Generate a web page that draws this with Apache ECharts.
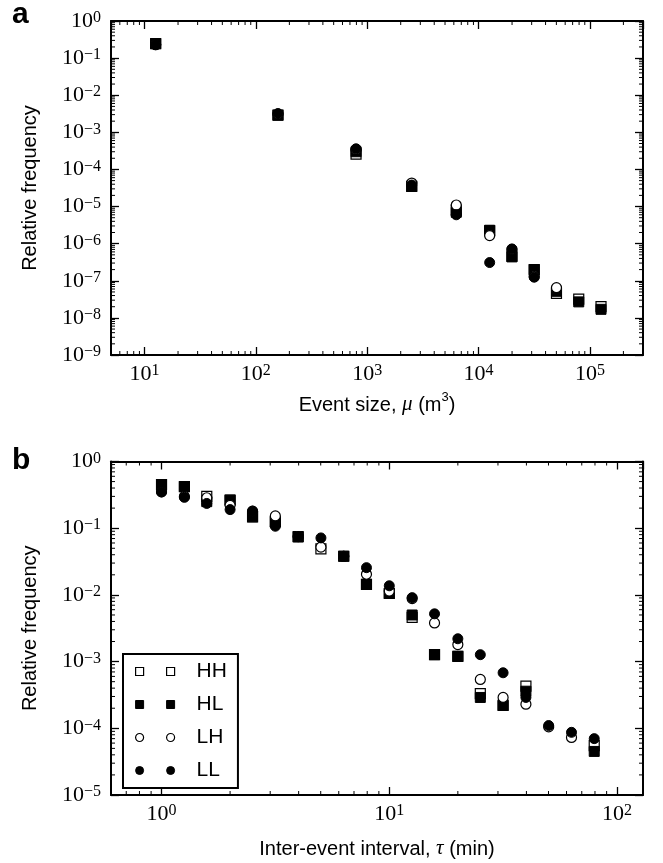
<!DOCTYPE html>
<html><head><meta charset="utf-8">
<script src="https://cdn.jsdelivr.net/npm/echarts@6/dist/echarts.min.js"></script>
<style>html,body{margin:0;padding:0;background:#fff}#c{width:663px;height:863px}</style>
</head><body><div id="c"></div>
<script>
// ---------- Panel a: event size distribution ----------
const sizeBins = [12.6, 158, 794, 2512, 6310, 12589, 19953, 31623, 50119, 79433, 125893];
const aHH = [0.245, 2.9e-3, 2.6e-4, 3.5e-5, 8.0e-6, 2.2e-6, 4.6e-7, 2.0e-7, 4.6e-8, 3.2e-8, 2.0e-8];
const aHL = [0.245, 2.9e-3, 3.0e-4, 3.5e-5, 7.0e-6, 2.3e-6, 4.4e-7, 2.0e-7, 5.2e-8, 2.7e-8, 1.7e-8];
const aLH = [0.23, 3.1e-3, 3.4e-4, 4.3e-5, 1.1e-5, 1.65e-6, 7.0e-7, 1.3e-7, 6.5e-8, null, null];
const aLL = [0.23, 3.2e-3, 3.6e-4, 3.8e-5, 6.0e-6, 3.1e-7, 7.2e-7, 1.25e-7, null, null, null];
const aXRange = [5, 3e5];
const aYRange = [1e-9, 1];

// ---------- Panel b: inter-event interval distribution ----------
const intervalBins = [1.0, 1.26, 1.58, 2.0, 2.51, 3.16, 3.98, 5.01, 6.31, 7.94, 10.0, 12.6, 15.8, 20.0, 25.1, 31.6, 39.8, 50.1, 63.1, 79.4];
const bHH = [0.45, 0.42, 0.30, 0.264, 0.148, 0.125, 0.075, 0.049, 0.038, 0.0144, 0.0105, 0.0046, 0.00127, 0.0012, 0.00033, 0.00022, 0.00043, null, null, 5.5e-5];
const bHL = [0.45, 0.42, 0.25, 0.264, 0.148, 0.125, 0.074, null, 0.038, 0.0144, 0.0105, 0.0050, 0.00127, 0.0012, 0.00029, 0.00022, 0.00036, null, null, 4.5e-5];
const bLH = [0.35, 0.30, 0.286, 0.22, 0.18, 0.153, 0.075, 0.052, 0.038, 0.0204, 0.0114, 0.0088, 0.0038, 0.0018, 0.00054, 0.00029, 0.00023, 1.05e-4, 7.3e-5, null];
const bLL = [0.35, 0.29, 0.235, 0.19, 0.18, 0.107, 0.075, 0.0715, 0.038, 0.0256, 0.0137, 0.0091, 0.0052, 0.0022, 0.00127, 0.00068, 0.00029, 1.1e-4, 8.7e-5, 7.0e-5];
const bXRange = [0.6, 130];
const bYRange = [1e-5, 1];

const seriesNames = ['HH', 'HL', 'LH', 'LL'];

const SERIF = '"Liberation Serif", "DejaVu Serif", serif';
const SANS = '"Liberation Sans", "Helvetica", Arial, sans-serif';
const MINUS = '\u2212';

function powLabel(v) {
  const l = Math.log10(v);
  const e = Math.round(l);
  if (Math.abs(l - e) > 1e-6) return '';
  return '{b|10}{s|' + (e < 0 ? MINUS + (-e) : e) + '}';
}
const labelRich = {
  b: { fontFamily: SERIF, fontSize: 22, lineHeight: 22, verticalAlign: 'bottom', color: '#000' },
  s: { fontFamily: SERIF, fontSize: 16, lineHeight: 16, padding: [0, 0, 10, 0], verticalAlign: 'top', color: '#000' }
};
const nameRich = {
  n: { fontFamily: SANS, fontSize: 20, color: '#000', lineHeight: 24, verticalAlign: 'bottom' },
  m: { fontFamily: SERIF, fontStyle: 'italic', fontSize: 21, color: '#000', lineHeight: 24, verticalAlign: 'bottom' },
  p: { fontFamily: SANS, fontSize: 13, color: '#000', lineHeight: 13, padding: [0, 0, 11, 0], verticalAlign: 'top' }
};

const frameLine = { show: true, onZero: false, lineStyle: { color: '#000', width: 2 } };
const majorTick = { show: true, inside: true, length: 8, lineStyle: { color: '#000', width: 1.3 } };

function mainX(grid, range, name, gap) {
  return {
    type: 'log', logBase: 10, gridIndex: grid, position: 'bottom', min: range[0], max: range[1],
    axisLine: frameLine, axisTick: majorTick, splitLine: { show: false }, minorTick: { show: false },
    axisLabel: { formatter: powLabel, rich: labelRich, margin: 8, showMinLabel: false, showMaxLabel: false },
    name: name, nameLocation: 'middle', nameGap: gap, nameTextStyle: { rich: nameRich }
  };
}
function mirrorX(grid, range) {
  return {
    type: 'log', logBase: 10, gridIndex: grid, position: 'top', min: range[0], max: range[1],
    axisLine: frameLine, axisTick: majorTick, splitLine: { show: false }, axisLabel: { show: false }
  };
}
function mainY(grid, range) {
  return {
    type: 'log', logBase: 10, gridIndex: grid, position: 'left', min: range[0], max: range[1],
    axisLine: frameLine, axisTick: majorTick, splitLine: { show: false }, minorTick: { show: false },
    axisLabel: { formatter: powLabel, rich: labelRich, margin: 10 },
    name: 'Relative frequency', nameLocation: 'middle', nameGap: 71, nameRotate: 90,
    nameTextStyle: { fontFamily: SANS, fontSize: 20, color: '#000' }
  };
}
function mirrorY(grid, range) {
  return {
    type: 'log', logBase: 10, gridIndex: grid, position: 'right', min: range[0], max: range[1],
    axisLine: frameLine, axisTick: majorTick, splitLine: { show: false }, axisLabel: { show: false }
  };
}

// minor tick values (2..9 x 10^k) inside a range
function minorValues(range) {
  const out = [];
  const k0 = Math.floor(Math.log10(range[0])), k1 = Math.ceil(Math.log10(range[1]));
  for (let k = k0; k <= k1; k++) {
    for (let m = 2; m <= 9; m++) {
      const v = m * Math.pow(10, k);
      if (v > range[0] * 1.0001 && v < range[1] * 0.9999) out.push(v);
    }
  }
  return out;
}
function minorSeries(grid, xr, yr) {
  const data = [];
  minorValues(xr).forEach(v => data.push([v, yr[0], 0]));
  minorValues(yr).forEach(v => data.push([xr[0], v, 1]));
  return {
    type: 'custom', xAxisIndex: grid * 2, yAxisIndex: grid * 2, silent: true, z: 5,
    data: data,
    renderItem: function (params, api) {
      const L = 4, st = { stroke: '#000', lineWidth: 1 };
      const v = api.value(0), w = api.value(1), kind = api.value(2);
      if (kind === 0) {
        const a = api.coord([v, yr[0]]), b = api.coord([v, yr[1]]);
        return { type: 'group', children: [
          { type: 'line', shape: { x1: a[0], y1: a[1], x2: a[0], y2: a[1] - L }, style: st },
          { type: 'line', shape: { x1: b[0], y1: b[1], x2: b[0], y2: b[1] + L }, style: st }
        ] };
      } else {
        const a = api.coord([xr[0], w]), b = api.coord([xr[1], w]);
        return { type: 'group', children: [
          { type: 'line', shape: { x1: a[0], y1: a[1], x2: a[0] + L, y2: a[1] }, style: st },
          { type: 'line', shape: { x1: b[0], y1: b[1], x2: b[0] - L, y2: b[1] }, style: st }
        ] };
      }
    }
  };
}

const markerStyles = {
  HH: { symbol: 'rect', itemStyle: { color: '#fff', borderColor: '#000', borderWidth: 1.2, opacity: 1 } },
  HL: { symbol: 'rect', itemStyle: { color: '#000', borderColor: '#000', borderWidth: 1, opacity: 1 } },
  LH: { symbol: 'circle', itemStyle: { color: '#fff', borderColor: '#000', borderWidth: 1.2, opacity: 1 } },
  LL: { symbol: 'circle', itemStyle: { color: '#000', borderColor: '#000', borderWidth: 1, opacity: 1 } }
};

function scatter(grid, name, xs, ys) {
  const data = [];
  xs.forEach((x, i) => { if (ys[i] != null) data.push([x, ys[i]]); });
  return {
    type: 'scatter', name: name, xAxisIndex: grid * 2, yAxisIndex: grid * 2,
    symbol: markerStyles[name].symbol, symbolSize: 10,
    itemStyle: markerStyles[name].itemStyle, data: data, z: 3,
    emphasis: { disabled: true }
  };
}

const SQ2 = 'path://M0,0L8,0L8,8L0,8Z M31,0L39,0L39,8L31,8Z';
const CI2 = 'path://M0,4A4,4,0,1,1,8,4A4,4,0,1,1,0,4Z M31,4A4,4,0,1,1,39,4A4,4,0,1,1,31,4Z';

const chart = echarts.init(document.getElementById('c'), null, { renderer: 'canvas' });
chart.setOption({
  animation: false,
  backgroundColor: '#fff',
  grid: [
    { left: 111, top: 21, width: 532, height: 334 },
    { left: 111, top: 461.5, width: 532, height: 333.5 }
  ],
  xAxis: [
    mainX(0, aXRange, '{n|Event size, }{m|\u03bc}{n| (m}{p|3}{n|)}', 36),
    mirrorX(0, aXRange),
    mainX(1, bXRange, '{n|Inter-event interval, }{m|\u03c4}{n| (min)}', 40),
    mirrorX(1, bXRange)
  ],
  yAxis: [
    mainY(0, aYRange), mirrorY(0, aYRange),
    mainY(1, bYRange), mirrorY(1, bYRange)
  ],
  legend: {
    show: true, orient: 'vertical', left: 123, top: 654,
    padding: [7, 11, 7, 12], itemGap: 12, itemWidth: 39, itemHeight: 8,
    borderColor: '#000', borderWidth: 2, borderRadius: 0, backgroundColor: '#fff',
    selectedMode: false,
    textStyle: { fontFamily: SANS, fontSize: 21, color: '#000', lineHeight: 20, padding: [0, 0, 0, 17] },
    data: [
      { name: 'HH', icon: SQ2, itemStyle: { color: '#fff', borderColor: '#000', borderWidth: 1.2, opacity: 1 } },
      { name: 'HL', icon: SQ2, itemStyle: { color: '#000', borderColor: '#000', borderWidth: 1, opacity: 1 } },
      { name: 'LH', icon: CI2, itemStyle: { color: '#fff', borderColor: '#000', borderWidth: 1.2, opacity: 1 } },
      { name: 'LL', icon: CI2, itemStyle: { color: '#000', borderColor: '#000', borderWidth: 1, opacity: 1 } }
    ]
  },
  graphic: [
    { type: 'text', left: 12, top: 0, style: { text: 'a', font: 'bold 30px "Liberation Sans", Arial, sans-serif', fill: '#000' } },
    { type: 'text', left: 12, top: 446, style: { text: 'b', font: 'bold 30px "Liberation Sans", Arial, sans-serif', fill: '#000' } }
  ],
  series: [
    scatter(0, 'HH', sizeBins, aHH),
    scatter(0, 'HL', sizeBins, aHL),
    scatter(0, 'LH', sizeBins, aLH),
    scatter(0, 'LL', sizeBins, aLL),
    scatter(1, 'HH', intervalBins, bHH),
    scatter(1, 'HL', intervalBins, bHL),
    scatter(1, 'LH', intervalBins, bLH),
    scatter(1, 'LL', intervalBins, bLL),
    minorSeries(0, aXRange, aYRange),
    minorSeries(1, bXRange, bYRange)
  ]
});
</script>
</body></html>
